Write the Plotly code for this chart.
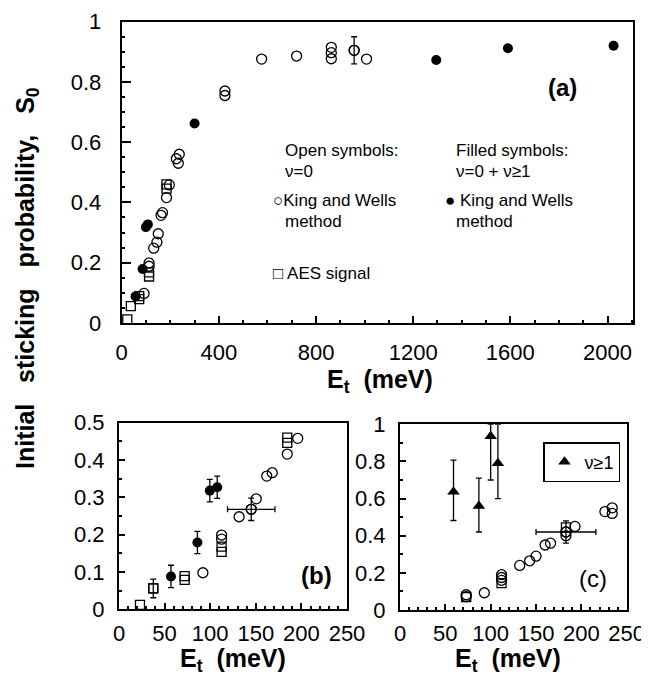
import plotly.graph_objects as go

# ---------------- data ----------------
# King & Wells, nu=0 (open circles) -- panels (a) and (b)
kw_open_E = [92, 112.5, 112.5, 131.7, 145, 150.5, 162, 168, 184.5, 196, 225, 233, 237,
             425, 425, 576, 720, 863, 863, 863, 957, 1008]
kw_open_S = [0.098, 0.199, 0.188, 0.248, 0.268, 0.296, 0.357, 0.366, 0.416, 0.458, 0.545, 0.53, 0.56,
             0.77, 0.755, 0.876, 0.886, 0.915, 0.897, 0.877, 0.905, 0.876]
kw_open_errS = [None, None, None, None, 0.03, None, None, None, None, None, None, None, None,
                None, None, None, None, None, None, None, 0.045, None]
kw_open_errE = [None, None, None, None, 26, None, None, None, None, None, None, None, None,
                None, None, None, None, None, None, None, 0, None]

# King & Wells, nu=0 + nu>=1 (filled circles)
kw_fill_E = [57, 86, 99.6, 107.7, 300, 1295, 1590, 2025]
kw_fill_S = [0.088, 0.179, 0.318, 0.327, 0.662, 0.873, 0.912, 0.92]
kw_fill_err = [0.03, 0.03, 0.03, 0.03, None, None, None, None]

# AES signal (open squares)
aes_E = [23, 37.6, 72, 72, 112.5, 112.5, 184.5, 184.5]
aes_S = [0.012, 0.056, 0.079, 0.089, 0.154, 0.168, 0.446, 0.46]
aes_err = [None, 0.025, None, None, None, None, None, None]

# panel (c): nu=0 data
c_open_E = [73, 73, 93, 112, 112, 112, 132, 143, 150, 160, 166, 183, 183, 193, 226, 234, 234]
c_open_S = [0.082, 0.072, 0.093, 0.19, 0.175, 0.16, 0.24, 0.265, 0.29, 0.35, 0.36, 0.42, 0.40, 0.45,
            0.53, 0.55, 0.52]
c_open_errS = [None] * 11 + [0.06] + [None] * 5
c_open_errE = [None] * 11 + [33] + [None] * 5
c_sq_E = [73, 112, 183]
c_sq_S = [0.07, 0.145, 0.445]

# panel (c): nu>=1 (filled triangles)
c_tri_E = [59, 87, 100, 108]
c_tri_S = [0.637, 0.56, 0.935, 0.79]
c_tri_err_plus = [0.17, 0.15, 0.065, 0.21]
c_tri_err_minus = [0.155, 0.14, 0.235, 0.19]

# ticks
a_xticks = [0, 400, 800, 1200, 1600, 2000]
bc_xticks = [0, 50, 100, 150, 200, 250]

# ---------------- figure ----------------
OFF = 8  # page body margin
W, H = 649 - OFF, 679 - OFF
FONT = "Liberation Sans"
fig = go.Figure()

open_marker = dict(symbol="circle-open", size=10, color="black", line=dict(width=1.3))
fill_marker = dict(symbol="circle", size=10, color="black")
sq_marker = dict(symbol="square-open", size=9, color="black", line=dict(width=1.3))
tri_marker = dict(symbol="triangle-up", size=11, color="black")


def eb(arr, minus=None):
    d = dict(type="data", array=arr, color="black", thickness=1.3, width=3)
    if minus is not None:
        d["arrayminus"] = minus
        d["symmetric"] = False
    return d


def subset(xs, ys, *errs):
    idx = [i for i in range(len(xs)) if any(e[i] for e in errs)]
    out = [[xs[i] for i in idx], [ys[i] for i in idx]]
    for e in errs:
        out.append([e[i] or 0 for i in idx])
    return out


def add(x, y, marker, ax, clip=True, errx=None, erry=None, erry_minus=None, name=None):
    fig.add_trace(go.Scatter(x=x, y=y, mode="markers", marker=marker, cliponaxis=clip,
                             showlegend=name is not None, name=name,
                             xaxis="x" + ax, yaxis="y" + ax,
                             error_x=eb(errx) if errx else None,
                             error_y=eb(erry, erry_minus) if erry else None))


# panel (a)
add(kw_open_E, kw_open_S, open_marker, "", clip=False)
ex, ey, _, esy = subset(kw_open_E, kw_open_S, kw_open_errE, kw_open_errS)
add([ex[-1]], [ey[-1]], open_marker, "", clip=False, erry=[esy[-1]])
add(kw_fill_E, kw_fill_S, fill_marker, "", clip=False)
add(aes_E, aes_S, sq_marker, "", clip=False)

# panel (b)
add(aes_E, aes_S, sq_marker, "2", clip=False)
sx, sy, se = subset(aes_E, aes_S, aes_err)
add(sx, sy, sq_marker, "2", erry=se)
add(kw_open_E, kw_open_S, open_marker, "2")
ox, oy, oex, oey = subset(kw_open_E, kw_open_S, kw_open_errE, kw_open_errS)
add(ox, oy, open_marker, "2", errx=oex, erry=oey)
fx, fy, fe = subset(kw_fill_E, kw_fill_S, kw_fill_err)
add(fx, fy, fill_marker, "2", erry=fe)

# panel (c)
add(c_sq_E, c_sq_S, sq_marker, "3", clip=False)
add(c_open_E, c_open_S, open_marker, "3", clip=False)
cx_, cy_, cex, cey = subset(c_open_E, c_open_S, c_open_errE, c_open_errS)
add(cx_, cy_, open_marker, "3", errx=cex, erry=cey)
add(c_tri_E, c_tri_S, tri_marker, "3", erry=c_tri_err_plus, erry_minus=c_tri_err_minus,
    name="ν≥1")


def px_x(p):
    return (p - OFF) / W


def px_y(p):
    return 1 - (p - OFF) / H


tickfont = dict(family=FONT, size=22, color="black")
common = dict(showline=True, linecolor="black", linewidth=2, mirror=True, ticks="inside",
              tickcolor="black", showgrid=False, zeroline=False, tickfont=tickfont,
              automargin=False)

fig.update_layout(
    width=W, height=H, paper_bgcolor="white", plot_bgcolor="white",
    margin=dict(l=0, r=0, t=0, b=0, autoexpand=False),
    font=dict(family=FONT, color="black"),
    xaxis=dict(domain=[px_x(121.7), px_x(633)], range=[0, 2105], tickvals=a_xticks,
               ticklen=7, tickwidth=1.5, ticklabelstandoff=9, anchor="y",
               minor=dict(dtick=100, ticklen=3, ticks="inside", tickcolor="black"), **common),
    yaxis=dict(domain=[px_y(322.9), px_y(21.7)], range=[0, 1.0], dtick=0.2,
               ticklen=9, tickwidth=1.5, ticklabelstandoff=14, anchor="x",
               minor=dict(dtick=0.05, ticklen=3, ticks="inside", tickcolor="black"), **common),
    xaxis2=dict(domain=[px_x(119), px_x(347)], range=[0, 250], tickvals=bc_xticks,
                ticklen=6, tickwidth=1.5, ticklabelstandoff=3, anchor="y2",
                minor=dict(dtick=10, ticklen=3, ticks="inside", tickcolor="black"), **common),
    yaxis2=dict(domain=[px_y(609.3), px_y(422.7)], range=[0, 0.5], dtick=0.1,
                ticklen=6, tickwidth=1.5, ticklabelstandoff=8, anchor="x2",
                minor=dict(dtick=0.05, ticklen=3, ticks="inside", tickcolor="black"), **common),
    xaxis3=dict(domain=[px_x(400), px_x(626.7)], range=[0, 250], tickvals=bc_xticks,
                ticklen=6, tickwidth=1.5, ticklabelstandoff=3, anchor="y3",
                minor=dict(dtick=10, ticklen=3, ticks="inside", tickcolor="black"), **common),
    yaxis3=dict(domain=[px_y(610), px_y(424.3)], range=[0, 1.0], dtick=0.2,
                ticklen=6, tickwidth=1.5, ticklabelstandoff=8, anchor="x3",
                minor=dict(dtick=0.1, ticklen=3, ticks="inside", tickcolor="black"), **common),
    legend=dict(x=px_x(543), y=px_y(442), xanchor="left", yanchor="top",
                bordercolor="black", borderwidth=1.5, bgcolor="white",
                font=dict(family=FONT, size=18, color="black"), itemwidth=30,
                tracegroupgap=0),
)

NB = "\u00a0"
annots = []
# y-axis title
annots.append(dict(text=f"<b>Initial{NB*3}sticking{NB*3}probability,{NB*3}S<sub>0</sub></b>",
                   x=px_x(27), y=px_y(278), xref="paper", yref="paper", textangle=-90,
                   showarrow=False, font=dict(family=FONT, size=25, color="black"),
                   xanchor="center", yanchor="middle"))
# x-axis titles
for cx, cy in [(380, 381), (233, 660), (508, 660)]:
    annots.append(dict(text=f"<b>E<sub>t</sub>{NB*2}(meV)</b>", x=px_x(cx), y=px_y(cy),
                       xref="paper", yref="paper", showarrow=False,
                       font=dict(family=FONT, size=25, color="black"),
                       xanchor="center", yanchor="middle"))
# panel labels
annots.append(dict(text="<b>(a)</b>", x=1815, y=0.78, xref="x", yref="y", showarrow=False,
                   font=dict(family=FONT, size=24, color="black")))
annots.append(dict(text="<b>(b)</b>", x=217, y=0.09, xref="x2", yref="y2", showarrow=False,
                   font=dict(family=FONT, size=24, color="black")))
annots.append(dict(text="(c)", x=213, y=0.17, xref="x3", yref="y3", showarrow=False,
                   font=dict(family=FONT, size=24, color="black")))
# key text in panel (a)
kf = dict(family=FONT, size=17, color="black")
key = [
    ("Open symbols:", 662, 0.571), ("ν=0", 662, 0.502),
    ("○King and Wells", 615, 0.406), ("method", 662, 0.336),
    ("□ AES signal", 615, 0.163),
    ("Filled symbols:", 1369, 0.571), ("ν=0 + ν≥1", 1369, 0.502),
    ("● King and Wells", 1322, 0.406), ("method", 1369, 0.336),
]
for t, x, y in key:
    annots.append(dict(text=t, x=x, y=y, xref="x", yref="y", showarrow=False,
                       xanchor="left", yanchor="middle", font=kf))
fig.update_layout(annotations=annots)

fig.write_html("out.html")
